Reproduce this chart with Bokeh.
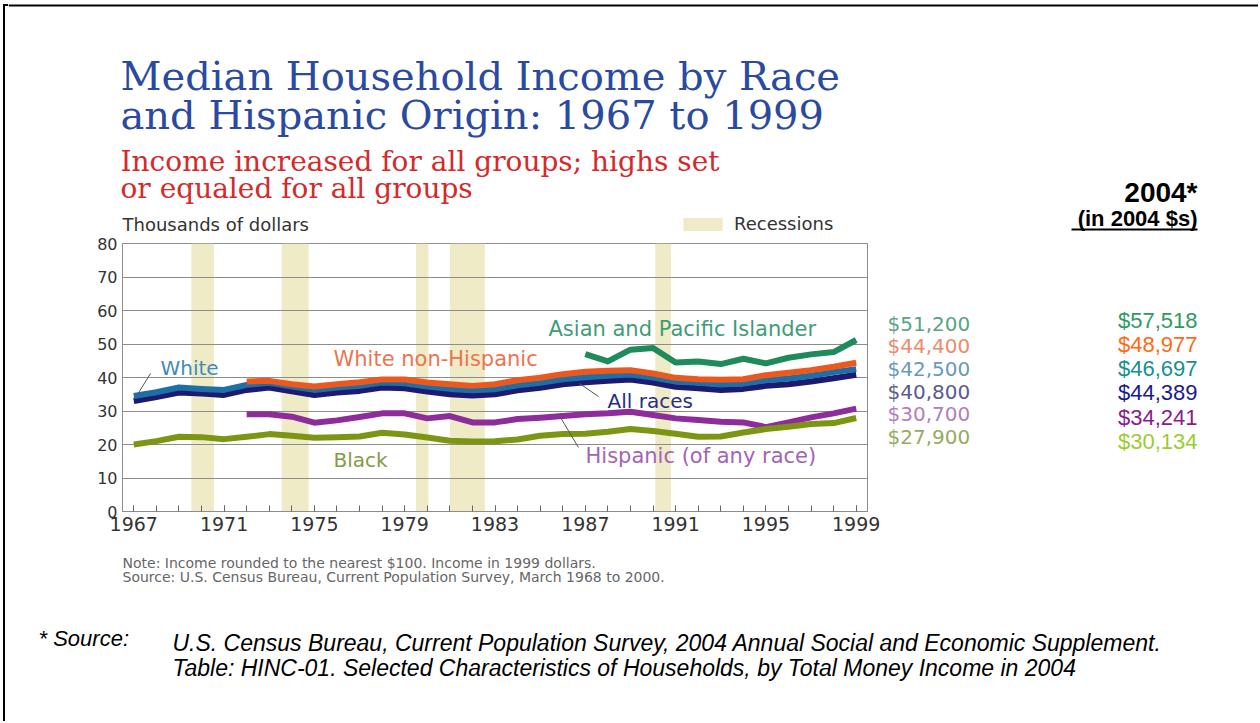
from bokeh.plotting import figure
from bokeh.layouts import column, row
from bokeh.models import Range1d, FixedTicker, Label, Legend, LegendItem, ColumnDataSource, Div
from bokeh.embed import file_html
from bokeh.resources import INLINE

# ---------------- data (thousands of 1999 dollars) ----------------
years = list(range(1967, 2000))
all_races = [33.0, 34.2, 35.5, 35.2, 34.8, 36.3, 37.0, 35.9, 34.8, 35.5, 36.0, 37.0, 36.8,
             35.8, 35.0, 34.6, 35.0, 36.2, 36.9, 38.0, 38.6, 39.0, 39.4, 38.5, 37.2, 36.8,
             36.3, 36.6, 37.5, 38.0, 38.8, 39.8, 40.8]
white = [34.5, 35.6, 37.0, 36.6, 36.3, 37.8, 38.4, 37.3, 36.3, 37.0, 37.5, 38.5, 38.3,
         37.3, 36.6, 36.2, 36.5, 37.7, 38.4, 39.5, 40.1, 40.5, 40.9, 40.0, 38.8, 38.4,
         37.9, 38.2, 39.2, 39.7, 40.5, 41.6, 42.5]
black = [20.0, 21.0, 22.3, 22.2, 21.6, 22.3, 23.1, 22.6, 22.0, 22.2, 22.4, 23.5, 23.0,
         22.1, 21.1, 20.9, 21.0, 21.5, 22.6, 23.1, 23.2, 23.8, 24.6, 24.0, 23.2, 22.3,
         22.4, 23.6, 24.6, 25.3, 26.1, 26.4, 27.9]
wnh_years = list(range(1972, 2000))
white_non_hispanic = [38.8, 39.0, 38.0, 37.3, 38.0, 38.6, 39.4, 39.4, 38.5, 38.0, 37.5, 38.0,
                      39.2, 39.9, 41.0, 41.7, 42.0, 42.2, 41.2, 39.9, 39.5, 39.3, 39.5, 40.7,
                      41.4, 42.2, 43.2, 44.4]
hisp_years = list(range(1972, 2000))
hispanic = [29.0, 29.0, 28.3, 26.5, 27.2, 28.2, 29.3, 29.3, 27.8, 28.5, 26.6, 26.6, 27.6,
            28.0, 28.5, 29.0, 29.3, 29.8, 28.8, 27.8, 27.3, 26.8, 26.6, 25.2, 26.6, 28.1,
            29.3, 30.7]
asian_years = list(range(1987, 2000))
asian_pacific = [47.0, 44.8, 48.3, 48.8, 44.5, 44.8, 44.0, 45.6, 44.2, 45.9, 46.9, 47.6, 51.2]

recession_start = [1969.55, 1973.55, 1979.5, 1981.0, 1990.1]
recession_end = [1970.55, 1974.75, 1980.05, 1982.55, 1990.8]

y_ticks = [0, 10, 20, 30, 40, 50, 60, 70, 80]
x_label_years = [1967, 1971, 1975, 1979, 1983, 1987, 1991, 1995, 1999]

labels_1999 = ["$51,200", "$44,400", "$42,500", "$40,800", "$30,700", "$27,900"]
labels_2004 = ["$57,518", "$48,977", "$46,697", "$44,389", "$34,241", "$30,134"]

# ---------------- styling ----------------
C_ASIAN, C_WNH, C_WHITE, C_ALL, C_HISP, C_BLACK = "#1f8a5c", "#ea5a1e", "#1d6fa5", "#1b1b72", "#8e2c9c", "#7c9614"
L_ASIAN, L_WNH, L_WHITE, L_ALL, L_HISP, L_BLACK = "#3f9c78", "#ec7450", "#3f8bbb", "#2c2c84", "#a464b4", "#849c44"
F1999 = ["#5aa384", "#ee8a6a", "#6a98bb", "#5b5b8c", "#b080bd", "#98aa5c"]
F2004 = ["#2f9a63", "#ff6a12", "#17908e", "#1a1a8c", "#8b1a8b", "#9acd32"]
BAND = "#efebc6"
SANS = "DejaVu Sans"
SERIF = "DejaVu Serif"
ARIAL = "Liberation Sans"

TOTAL_W = 1258
STRIP_W = 8
HEAD_H = 234          # header band (page y 0..234)
CHART_BOTTOM = 545    # chart band (page y 234..545)
TOTAL_H = 721
CHART_RIGHT = 880
FRAME_L, FRAME_R, FRAME_T, FRAME_B = 122, 867, 243, 511


def blank(x0, x1, y0, y1, **kw):
    """Helper figure in page-pixel coordinates (frame = whole canvas unless borders given)."""
    f = figure(width=x1 - x0, height=y1 - y0, output_backend="svg", toolbar_location=None,
               x_axis_type=None, y_axis_type=None, **kw)
    f.outline_line_color = None
    f.background_fill_color = "white"
    f.border_fill_color = "white"
    return f


def lab(fig, x, y, text, color, size, font=SANS, align="left", style="normal", rng=False):
    kw = dict(x_range_name="px", y_range_name="px") if rng else {}
    fig.add_layout(Label(x=x, y=y, text=text, text_color=color, text_font=font,
                         text_font_size=size, text_align=align, text_baseline="middle",
                         text_font_style=style, **kw))


# ---------------- left page border ----------------
strip = Div(text="", width=STRIP_W, height=TOTAL_H, margin=0,
            styles={"background": "linear-gradient(#000,#000) 3px 4px / 2px 100% no-repeat, "
                                  "linear-gradient(#000,#000) 3px 4px / 5px 2px no-repeat, #ffffff"})

# ---------------- header ----------------
head = blank(STRIP_W, TOTAL_W, 0, HEAD_H, min_border=0,
             x_range=Range1d(STRIP_W, TOTAL_W), y_range=Range1d(HEAD_H, 0))
head.segment(x0=[STRIP_W], y0=[5], x1=[TOTAL_W], y1=[5], line_color="black", line_width=2)
lab(head, 120, 75, "Median Household Income by Race", "#2a4aa2", "40px", font=SERIF)
lab(head, 120, 114, "and Hispanic Origin: 1967 to 1999", "#2a4aa2", "40px", font=SERIF)
lab(head, 120, 161, "Income increased for all groups; highs set", "#d42a2a", "28px", font=SERIF)
lab(head, 120, 188, "or equaled for all groups", "#d42a2a", "28px", font=SERIF)
lab(head, 122, 224, "Thousands of dollars", "#333333", "18px")
lab(head, 1197, 192, "2004*", "#000000", "28px", font=ARIAL, align="right", style="bold")
lab(head, 1197, 218, "(in 2004 $s)", "#000000", "22px", font=ARIAL, align="right", style="bold")
head.segment(x0=[1071], y0=[229], x1=[1197], y1=[229], line_color="#000000", line_width=2)

rec_src = ColumnDataSource(dict(left=recession_start, right=recession_end,
                                bottom=[0] * len(recession_start), top=[80] * len(recession_start)))
# key for the recession bands (the band data fall outside the header's pixel ranges)
rec_key = head.quad(left="left", right="right", bottom="bottom", top="top", source=rec_src,
                    fill_color=BAND, line_color=None)
legend = Legend(items=[LegendItem(label="Recessions", renderers=[rec_key])],
                location=(678 - STRIP_W, 0), orientation="horizontal",
                glyph_width=49, glyph_height=16, label_height=16,
                label_text_font=SANS, label_text_font_size="18px", label_text_color="#333333",
                label_standoff=7, padding=0, margin=0, border_line_color=None,
                background_fill_alpha=0)
head.add_layout(legend)

# ---------------- chart ----------------
p = figure(width=CHART_RIGHT - STRIP_W, height=CHART_BOTTOM - HEAD_H, output_backend="svg",
           toolbar_location=None,
           x_range=Range1d(1966.5, 1999.5), y_range=Range1d(0, 80),
           min_border_left=FRAME_L - STRIP_W, min_border_right=CHART_RIGHT - FRAME_R,
           min_border_top=FRAME_T - HEAD_H, min_border_bottom=CHART_BOTTOM - FRAME_B)
p.extra_x_ranges = {"px": Range1d(FRAME_L, FRAME_R)}
p.extra_y_ranges = {"px": Range1d(FRAME_B, FRAME_T)}

p.quad(left="left", right="right", bottom="bottom", top="top", source=rec_src,
       fill_color=BAND, line_color=None, level="image")

LW = 6
p.line(years, all_races, line_color=C_ALL, line_width=LW, line_join="round")
p.line(years, white, line_color=C_WHITE, line_width=LW, line_join="round")
p.line(wnh_years, white_non_hispanic, line_color=C_WNH, line_width=LW, line_join="round")
p.line(hisp_years, hispanic, line_color=C_HISP, line_width=LW, line_join="round")
p.line(years, black, line_color=C_BLACK, line_width=LW, line_join="round")
p.line(asian_years, asian_pacific, line_color=C_ASIAN, line_width=LW, line_join="round")

p.outline_line_color = "#8c8c8c"
p.xgrid.grid_line_color = None
p.ygrid.ticker = FixedTicker(ticks=y_ticks)
p.ygrid.grid_line_color = "#8c8c8c"

p.yaxis.ticker = FixedTicker(ticks=y_ticks)
p.yaxis.axis_line_color = "#8c8c8c"
p.yaxis.major_tick_in = 0
p.yaxis.major_tick_out = 0
p.yaxis.minor_tick_line_color = None
p.yaxis.major_label_text_font = SANS
p.yaxis.major_label_text_font_size = "16px"
p.yaxis.major_label_text_color = "#333333"
p.yaxis.major_label_standoff = 5

p.xaxis.ticker = FixedTicker(ticks=x_label_years, minor_ticks=years)
p.xaxis.axis_line_color = "#8c8c8c"
p.xaxis.major_tick_in = 6
p.xaxis.major_tick_out = 0
p.xaxis.minor_tick_in = 6
p.xaxis.minor_tick_out = 0
p.xaxis.major_tick_line_color = "#666666"
p.xaxis.minor_tick_line_color = "#666666"
p.xaxis.major_label_text_font = SANS
p.xaxis.major_label_text_font_size = "19px"
p.xaxis.major_label_text_color = "#333333"
p.xaxis.major_label_standoff = 5

p.segment(x0=[150, 598, 578], y0=[373, 396, 447], x1=[137, 579, 560], y1=[394, 383, 417],
          x_range_name="px", y_range_name="px", line_color="#555555", line_width=1)

lab(p, 160, 367, "White", L_WHITE, "20px", rng=True)
lab(p, 333, 358, "White non-Hispanic", L_WNH, "21px", rng=True)
lab(p, 548, 328, "Asian and Pacific Islander", L_ASIAN, "21px", rng=True)
lab(p, 607, 400, "All races", L_ALL, "20px", rng=True)
lab(p, 585, 455, "Hispanic (of any race)", L_HISP, "21px", rng=True)
lab(p, 333, 459, "Black", L_BLACK, "20px", rng=True)

# ---------------- right value columns (same vertical frame as the chart) ----------------
side = blank(CHART_RIGHT, TOTAL_W, HEAD_H, CHART_BOTTOM,
             x_range=Range1d(CHART_RIGHT, TOTAL_W), y_range=Range1d(FRAME_B, FRAME_T),
             min_border_left=0, min_border_right=0,
             min_border_top=FRAME_T - HEAD_H, min_border_bottom=CHART_BOTTOM - FRAME_B)
for yy, t, c in zip([323, 345, 368, 391, 413, 436], labels_1999, F1999):
    lab(side, 887, yy, t, c, "20px")
for yy, t, c in zip([320, 344, 368, 392, 417, 441], labels_2004, F2004):
    lab(side, 1197, yy, t, c, "22px", font=ARIAL, align="right")

# ---------------- footer ----------------
foot = blank(STRIP_W, TOTAL_W, CHART_BOTTOM, TOTAL_H, min_border=0,
             x_range=Range1d(STRIP_W, TOTAL_W), y_range=Range1d(TOTAL_H, CHART_BOTTOM))
lab(foot, 122, 562, "Note: Income rounded to the nearest $100.  Income in 1999 dollars.", "#666666", "14px")
lab(foot, 122, 576, "Source:  U.S. Census Bureau, Current Population Survey, March 1968 to 2000.", "#666666", "14px")
lab(foot, 38, 638, "* Source:", "#000000", "22px", font=ARIAL, style="italic")
lab(foot, 172, 642, "U.S. Census Bureau, Current Population Survey, 2004 Annual Social and Economic Supplement.",
    "#000000", "23px", font=ARIAL, style="italic")
lab(foot, 172, 667, "Table: HINC-01. Selected Characteristics of Households, by Total Money Income in 2004",
    "#000000", "23px", font=ARIAL, style="italic")

layout = row(strip, column(head, row(p, side, spacing=0), foot, spacing=0), spacing=0)
open("out.html", "w").write(file_html(layout, INLINE))
